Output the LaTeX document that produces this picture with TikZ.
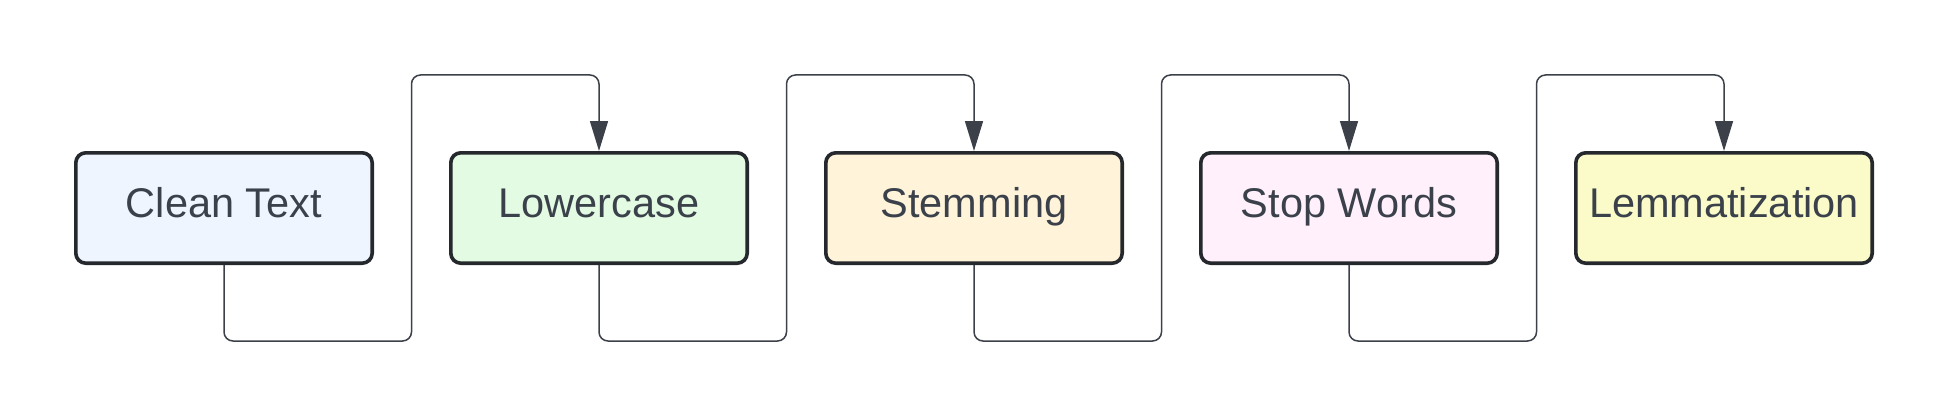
\documentclass[tikz,border=0pt]{standalone}
\usepackage{fontspec}
\setmainfont{Liberation Sans}
\usetikzlibrary{arrows.meta}
\definecolor{edge}{HTML}{25282C}
\definecolor{conncol}{HTML}{3B4049}
\definecolor{txt}{HTML}{3A414A}
\definecolor{cA}{HTML}{EEF5FF}
\definecolor{cB}{HTML}{E2FBE2}
\definecolor{cC}{HTML}{FFF3DA}
\definecolor{cD}{HTML}{FFF0FB}
\definecolor{cE}{HTML}{FBFBCA}
\tikzset{
  stepbox/.style={draw=edge, line width=3.6pt, rounded corners=10pt,
    minimum width=296.4pt, minimum height=110.4pt, inner sep=0pt,
    text height=30pt, text depth=12pt, text=txt,
    font=\fontsize{41.5}{41.5}\selectfont},
  conn/.style={draw=conncol, line width=1.5pt, rounded corners=9pt,
    -{Triangle[length=30pt,width=18pt]}}
}
\begin{document}
\begin{tikzpicture}[x=1pt,y=1pt]
\useasboundingbox (0,0) rectangle (1950,416);
\node[stepbox, fill=cA] (a) at (224,208) {Clean Text};
\node[stepbox, fill=cB] (b) at (599,208) {Lowercase};
\node[stepbox, fill=cC] (c) at (974,208) {Stemming};
\node[stepbox, fill=cD] (d) at (1349,208) {Stop Words};
\node[stepbox, fill=cE] (e) at (1724,208) {Lemmatization};
\draw[conn] (a.south) -- (224,75) -- (411.5,75) -- (411.5,341) -- (599,341) -- (b.north);
\draw[conn] (b.south) -- (599,75) -- (786.5,75) -- (786.5,341) -- (974,341) -- (c.north);
\draw[conn] (c.south) -- (974,75) -- (1161.5,75) -- (1161.5,341) -- (1349,341) -- (d.north);
\draw[conn] (d.south) -- (1349,75) -- (1536.5,75) -- (1536.5,341) -- (1724,341) -- (e.north);
\end{tikzpicture}
\end{document}
